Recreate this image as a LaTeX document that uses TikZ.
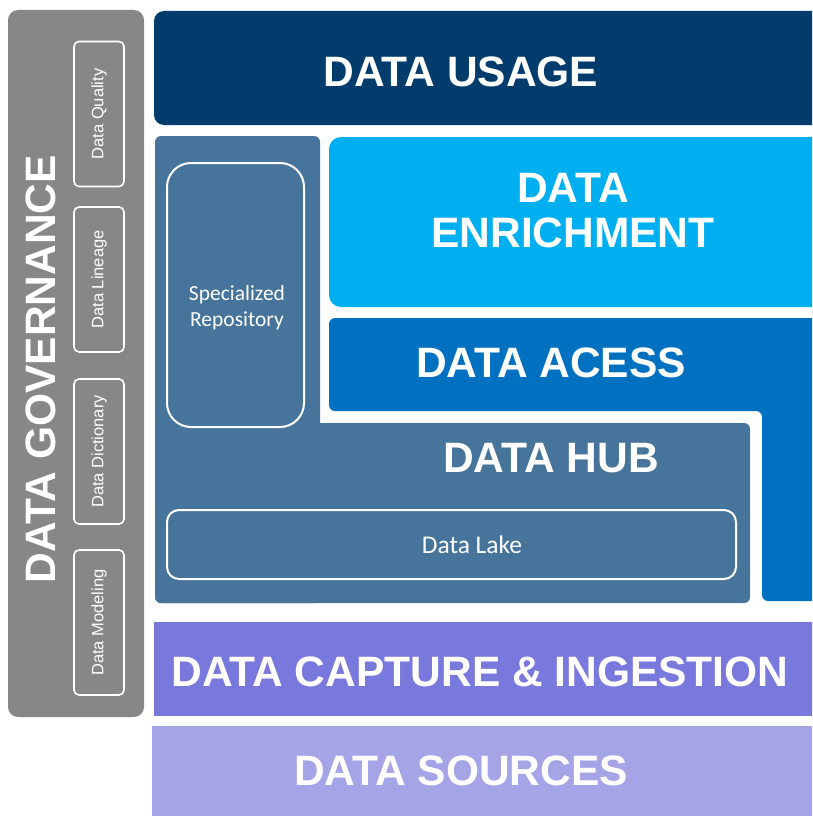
\documentclass[tikz,border=0pt]{standalone}
\usepackage{fontspec}
\setmainfont{Liberation Sans}
\newfontfamily\calibri{Carlito}
\definecolor{govgray}{HTML}{878787}
\definecolor{usagenavy}{HTML}{023C6C}
\definecolor{hubsteel}{HTML}{46749A}
\definecolor{enrichcyan}{HTML}{00AFEF}
\definecolor{accessblue}{HTML}{0070C0}
\definecolor{capturepurple}{HTML}{7878DD}
\definecolor{sourcelav}{HTML}{A4A4E7}
\tikzset{
  bigtext/.style={text=white, font=\fontsize{42.5}{45}\selectfont\bfseries, align=center, inner sep=0pt},
  govitem/.style={draw=white, line width=1.6pt, rounded corners=5pt, minimum width=145pt, minimum height=50pt, rotate=90, text=white, font=\fontsize{16.5}{18}\selectfont},
  outline/.style={draw=white, line width=2pt},
  smalltext/.style={text=white, font=\calibri\fontsize{21.5}{26}\selectfont, align=center, inner sep=0pt}
}
\begin{document}
\begin{tikzpicture}[x=1pt,y=-1pt]
\useasboundingbox (0,0) rectangle (812,816);
\clip (0,0) rectangle (812,816);
% governance column
\fill[govgray, rounded corners=10pt] (8,10) rectangle (144,717);
\node[bigtext, rotate=90] (gov) at (41,369) {DATA GOVERNANCE};
\node[govitem] (quality) at (99,114) {Data Quality};
\node[govitem] (lineage) at (99,279.5) {Data Lineage};
\node[govitem] (dictionary) at (99,451.5) {Data Dictionary};
\node[govitem] (modeling) at (99,622.5) {Data Modeling};
% usage
\fill[usagenavy, rounded corners=10pt] (154,11) rectangle (830,125);
\node[bigtext] (usage) at (461,72) {DATA USAGE};
% hub and specialized repository
\fill[hubsteel, rounded corners=6pt] (155,136) rectangle (320,603);
\fill[hubsteel, rounded corners=6pt] (155,423) rectangle (750,603);
\draw[outline, rounded corners=24pt] (167,163) rectangle (304,427);
\node[smalltext] (special) at (237,308) {Specialized\\Repository};
\node[bigtext] (hub) at (551,458) {DATA HUB};
\draw[outline, rounded corners=12pt] (167,510) rectangle (736,579);
\node[smalltext, font=\calibri\fontsize{25.5}{30}\selectfont] (lake) at (472,545) {Data Lake};
% enrichment
\fill[enrichcyan, rounded corners=12pt] (329,137) rectangle (830,307);
\node[bigtext] (enrich) at (573,211) {DATA\\ENRICHMENT};
% access
\fill[accessblue, rounded corners=6pt] (329,318) -- (830,318) -- (830,601) -- (762,601) -- (762,411) -- (329,411) -- cycle;
\node[bigtext] (access) at (551,363) {DATA ACESS};
% capture and sources
\fill[capturepurple] (154,622) rectangle (830,716);
\node[bigtext] (capture) at (480,672) {DATA CAPTURE \& INGESTION};
\fill[sourcelav] (152,726) rectangle (830,830);
\node[bigtext] (sources) at (461,771) {DATA SOURCES};
\end{tikzpicture}
\end{document}
